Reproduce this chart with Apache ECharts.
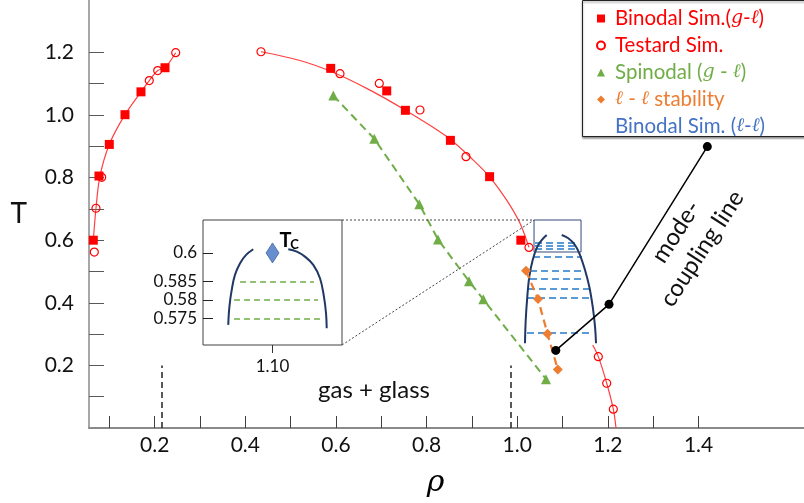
<!DOCTYPE html>
<html>
<head>
<meta charset="utf-8">
<script src="https://cdn.jsdelivr.net/npm/echarts@6/dist/echarts.min.js"></script>
<style>
  html, body { margin: 0; padding: 0; background: #fff; }
  #chart { width: 804px; height: 503px; }
</style>
</head>
<body>
<div id="chart"></div>
<script>
// ---- phase diagram data, [rho, T] ----
const binodalGL = [
  [0.0646, 0.600], [0.0771, 0.805], [0.0999, 0.906], [0.1345, 1.001], [0.1698, 1.074], [0.2228, 1.151],
  [0.5884, 1.149], [0.7120, 1.077], [0.7532, 1.015], [0.8525, 0.919], [0.9390, 0.803], [1.0079, 0.600]
];
const testard = [
  [0.0668, 0.562], [0.0705, 0.702], [0.0831, 0.801], [0.1881, 1.110], [0.2067, 1.142], [0.2464, 1.199],
  [0.4346, 1.202], [0.6089, 1.132], [0.6956, 1.101], [0.7854, 1.016], [0.8869, 0.867], [1.0259, 0.577],
  [1.1789, 0.228], [1.1974, 0.143], [1.2120, 0.060]
];
// smooth coexistence curve (gas branch, liquid branch, high-density tail)
const coexGas = [
  [0.0646, 0.600], [0.0705, 0.702], [0.0790, 0.803], [0.0999, 0.906], [0.1345, 1.001], [0.1698, 1.074],
  [0.1881, 1.110], [0.2067, 1.142], [0.2228, 1.151], [0.2464, 1.199]
];
const coexLiquid = [
  [0.4346, 1.202], [0.5207, 1.174], [0.5906, 1.138], [0.6678, 1.085], [0.7523, 1.016], [0.8444, 0.931],
  [0.9030, 0.856], [0.9399, 0.801], [0.9767, 0.728], [1.0061, 0.654], [1.0259, 0.577]
];
const coexTail = [[1.1665, 0.265], [1.1789, 0.228], [1.1974, 0.143], [1.2120, 0.060], [1.2179, 0.000]];
const spinodal = [
  [0.5941, 1.062], [0.6846, 0.924], [0.7839, 0.715], [0.8252, 0.602], [0.8936, 0.469], [0.9251, 0.411], [1.0635, 0.156]
];
const llStability = [[1.0193, 0.502], [1.0458, 0.412], [1.0668, 0.301], [1.0895, 0.187]];
const modeCoupling = [[1.0851, 0.248], [1.2025, 0.395], [1.4194, 0.899]];
// liquid-liquid tie lines: [T, rho left, rho right]
const llTieLines = [
  [0.593, 1.0392, 1.1341], [0.5815, 1.0392, 1.1341], [0.572, 1.0392, 1.1341], [0.547, 1.0348, 1.1429],
  [0.503, 1.0282, 1.1451], [0.476, 1.0282, 1.1451], [0.446, 1.0237, 1.1606], [0.416, 1.0215, 1.1606],
  [0.303, 1.0215, 1.1606]
];
const llDomeLeft = [
  [1.0171, 0.2706], [1.0187, 0.3450], [1.0222, 0.4195], [1.0266, 0.4834], [1.0341, 0.5367],
  [1.0443, 0.5792], [1.0540, 0.6006], [1.0650, 0.6166]
];
const llDomeRight = [
  [1.0981, 0.6166], [1.1127, 0.6061], [1.1274, 0.5847], [1.1385, 0.5527], [1.1495, 0.5048],
  [1.1590, 0.4515], [1.1665, 0.3876], [1.1716, 0.3237], [1.1738, 0.2706]
];
const zoomBox = { rho: [1.037, 1.1407], T: [0.5623, 0.6645] };
const glassBounds = [0.2162, 0.9862];   // rho of the dashed markers, drawn from T = 0 to 0.2
const glassMarkTop = 0.2;

// ---- close-up near the liquid-liquid critical point ----
const insetDomeLeft = [
  [1.0809, 0.57324], [1.0814, 0.57819], [1.0824, 0.58270], [1.0838, 0.58676], [1.0860, 0.58992],
  [1.0886, 0.59946], [1.0917, 0.60100]
];
const insetDomeRight = [
  [1.1068, 0.60100], [1.1105, 0.60035], [1.1140, 0.59900], [1.1176, 0.58946], [1.1205, 0.58586],
  [1.1222, 0.58089], [1.1231, 0.57641], [1.1234, 0.57235]
];
const insetTieLines = [[0.585, 1.0860, 1.1179], [0.580, 1.0834, 1.1196], [0.575, 1.0834, 1.1205]];
const criticalPoint = [1.10, 0.60];

// ---- tick values ----
const xTicks = [0.1, 0.2, 0.3, 0.4, 0.5, 0.6, 0.7, 0.8, 0.9, 1.0, 1.1, 1.2, 1.3, 1.4];
const xLabels = [0.2, 0.4, 0.6, 0.8, 1.0, 1.2, 1.4];
const yTicks = [0.1, 0.2, 0.3, 0.4, 0.5, 0.6, 0.7, 0.8, 0.9, 1.0, 1.1, 1.2];
const yLabels = [0.2, 0.4, 0.6, 0.8, 1.0, 1.2];
const insetYTicks = [0.575, 0.58, 0.585, 0.6];
const insetXTicks = [1.10];

const RED = '#FF0000', GREEN = '#70AD47', ORANGE = '#ED7D31', BLUE = '#4472C4', TIE = '#5B9BD5', NAVY = '#1F3864';
const FONT = 'Lato, "Open Sans", sans-serif';
const MATH = '"DejaVu Serif", serif';

const legendText = {
  'Binodal Sim.(g-ℓ)': '{r|Binodal Sim.(}{ri|g}{r|-}{ri|ℓ}{r|)}',
  'Testard Sim.': '{r|Testard Sim.}',
  'Spinodal (g - ℓ)': '{g|Spinodal (}{gi|g}{g| - }{gi|ℓ}{g|)}',
  'ℓ - ℓ stability': '{oi|ℓ}{o| - }{oi|ℓ}{o| stability}',
  'Binodal Sim. (ℓ-ℓ)': '{b|Binodal Sim. (}{bi|ℓ}{b|-}{bi|ℓ}{b|)}'
};
function richPair(color) {
  return [
    { color, fontFamily: FONT, fontSize: 20.5, lineHeight: 19 },
    { color, fontFamily: MATH, fontStyle: 'italic', fontSize: 19, lineHeight: 19 }
  ];
}
const [r, ri] = richPair(RED), [g, gi] = richPair(GREEN), [o, oi] = richPair(ORANGE), [b, bi] = richPair(BLUE);

const tieData = (rows) => rows.map(([t, a, c]) => ({ coords: [[a, t], [c, t]] }));
const boxPath = [
  [zoomBox.rho[0], zoomBox.T[1]], [zoomBox.rho[1], zoomBox.T[1]], [zoomBox.rho[1], zoomBox.T[0]],
  [zoomBox.rho[0], zoomBox.T[0]], [zoomBox.rho[0], zoomBox.T[1]]
];

const chart = echarts.init(document.getElementById('chart'), null, { renderer: 'canvas' });

const option = {
  animation: false,
  backgroundColor: '#fff',
  textStyle: { fontFamily: FONT },
  grid: [
    { left: 89, top: 0, right: 0, bottom: 75 },
    { left: 203, top: 220, width: 139, height: 125, show: true, backgroundColor: '#fff',
      borderColor: '#404040', borderWidth: 1 }
  ],
  xAxis: [
    {
      type: 'value', gridIndex: 0, min: 0.0551, max: 1.6327,
      name: 'ρ', nameLocation: 'middle', nameGap: 40,
      nameTextStyle: { fontFamily: MATH, fontStyle: 'italic', fontSize: 30, color: '#000', padding: [0, 22, 0, 0] },
      axisLine: { lineStyle: { color: '#8a8a8a', width: 2 } },
      axisTick: { inside: true, length: 12, customValues: xTicks, lineStyle: { color: '#404040', width: 1 } },
      axisLabel: { customValues: xLabels, margin: 7, fontSize: 21, color: '#111', fontFamily: FONT,
        formatter: v => v.toFixed(1) },
      splitLine: { show: false }
    },
    {
      type: 'value', gridIndex: 1, min: 1.07, max: 1.13,
      axisLine: { show: false },
      axisTick: { inside: false, length: 8, customValues: insetXTicks, lineStyle: { color: '#333' } },
      axisLabel: { customValues: insetXTicks, margin: 13, fontSize: 17, color: '#111', fontFamily: FONT,
        formatter: v => v.toFixed(2) },
      splitLine: { show: false }
    }
  ],
  yAxis: [
    {
      type: 'value', gridIndex: 0, min: 0, max: 1.3674,
      name: 'T', nameLocation: 'middle', nameRotate: 0, nameGap: 62,
      nameTextStyle: { fontSize: 28, color: '#111', fontFamily: FONT },
      axisLine: { show: true, lineStyle: { color: '#8a8a8a', width: 1.5 } },
      axisTick: { show: true, inside: true, length: 15, customValues: yTicks, lineStyle: { color: '#595959', width: 1 } },
      axisLabel: { customValues: yLabels, margin: 15, fontSize: 21, color: '#111', fontFamily: FONT,
        formatter: v => v.toFixed(1) },
      splitLine: { show: false }
    },
    {
      type: 'value', gridIndex: 1, min: 0.5678, max: 0.6089,
      breaks: [{ start: 0.5905, end: 0.5978, gap: 0 }],
      breakArea: { show: false },
      axisLine: { show: false },
      axisTick: { show: true, inside: true, length: 10, customValues: insetYTicks, lineStyle: { color: '#222' } },
      axisLabel: { customValues: insetYTicks, margin: 6, fontSize: 17, color: '#111', fontFamily: FONT,
        formatter: v => String(v) },
      splitLine: { show: false }
    }
  ],
  legend: {
    orient: 'vertical', left: 596, top: 8, padding: 0,
    itemWidth: 8, itemHeight: 8, itemGap: 6,
    selectedMode: false,
    data: [
      { name: 'Binodal Sim.(g-ℓ)', icon: 'rect' },
      { name: 'Testard Sim.', icon: 'circle' },
      { name: 'Spinodal (g - ℓ)', icon: 'triangle' },
      { name: 'ℓ - ℓ stability', icon: 'diamond' },
      { name: 'Binodal Sim. (ℓ-ℓ)', icon: 'none' }
    ],
    formatter: name => legendText[name],
    textStyle: { padding: [0, 0, 0, 5], rich: { r, ri, g, gi, o, oi, b, bi } }
  },
  series: [
    { name: 'coexistence gas', type: 'line', data: coexGas, smooth: 0.3, showSymbol: false, silent: true,
      lineStyle: { color: '#FF4040', width: 1.2 }, z: 1 },
    { name: 'coexistence liquid', type: 'line', data: coexLiquid, smooth: 0.3, showSymbol: false, silent: true,
      lineStyle: { color: '#FF4040', width: 1.2 }, z: 1 },
    { name: 'coexistence tail', type: 'line', data: coexTail, smooth: 0.3, showSymbol: false, silent: true,
      lineStyle: { color: '#FF4040', width: 1.2 }, z: 1 },
    { name: 'Binodal (ℓ-ℓ) dome left', type: 'line', data: llDomeLeft, smooth: 0.4, showSymbol: false,
      lineStyle: { color: NAVY, width: 2 }, z: 2 },
    { name: 'Binodal (ℓ-ℓ) dome right', type: 'line', data: llDomeRight, smooth: 0.4, showSymbol: false,
      lineStyle: { color: NAVY, width: 2 }, z: 2 },
    { name: 'Binodal Sim. (ℓ-ℓ)', type: 'lines', coordinateSystem: 'cartesian2d', data: tieData(llTieLines),
      lineStyle: { color: TIE, width: 1.8, type: [7, 4], opacity: 1 }, itemStyle: { color: BLUE }, z: 2 },
    { name: 'zoom frame', type: 'line', data: boxPath, showSymbol: false,
      lineStyle: { color: '#34497A', width: 1 }, z: 2 },
    { name: 'glass bounds', type: 'lines', coordinateSystem: 'cartesian2d',
      data: glassBounds.map(x => ({ coords: [[x, 0], [x, glassMarkTop]] })),
      lineStyle: { color: '#222', width: 1.5, type: [6, 4], opacity: 1 }, z: 2 },
    { name: 'Spinodal (g - ℓ)', type: 'line', data: spinodal, symbol: 'triangle', symbolSize: 10,
      itemStyle: { color: GREEN }, lineStyle: { color: GREEN, width: 2, type: [8, 5] }, z: 3 },
    { name: 'ℓ - ℓ stability', type: 'line', data: llStability, symbol: 'diamond', symbolSize: 10,
      itemStyle: { color: ORANGE }, lineStyle: { color: ORANGE, width: 2.2, type: [8, 5] }, z: 3 },
    { name: 'mode-coupling', type: 'line', data: modeCoupling, symbol: 'circle', symbolSize: 9,
      itemStyle: { color: '#000' }, lineStyle: { color: '#000', width: 1.5 }, z: 4 },
    { name: 'Binodal Sim.(g-ℓ)', type: 'scatter', data: binodalGL, symbol: 'rect', symbolSize: 9,
      itemStyle: { color: RED, opacity: 1 }, z: 5 },
    { name: 'Testard Sim.', type: 'scatter', data: testard, symbol: 'circle', symbolSize: 8,
      itemStyle: { color: 'rgba(255,255,255,0)', borderColor: RED, borderWidth: 1.2, opacity: 1 }, z: 5 },

    // close-up panel
    { name: 'inset dome left', type: 'line', xAxisIndex: 1, yAxisIndex: 1, data: insetDomeLeft, smooth: 0.4,
      showSymbol: false, lineStyle: { color: NAVY, width: 2 }, z: 6 },
    { name: 'inset dome right', type: 'line', xAxisIndex: 1, yAxisIndex: 1, data: insetDomeRight, smooth: 0.4,
      showSymbol: false, lineStyle: { color: NAVY, width: 2 }, z: 6 },
    { name: 'inset tie lines', type: 'lines', coordinateSystem: 'cartesian2d', xAxisIndex: 1, yAxisIndex: 1,
      data: tieData(insetTieLines), lineStyle: { color: GREEN, width: 1.5, type: [6, 4], opacity: 1 }, z: 6 },
    { name: 'critical point', type: 'scatter', xAxisIndex: 1, yAxisIndex: 1, data: [criticalPoint],
      symbol: 'diamond', symbolSize: [13, 20], itemStyle: { color: BLUE, borderColor: '#2F528F', borderWidth: 0.8 }, z: 7 }
  ]
};
chart.setOption(option);

// annotations and connector lines, anchored through the axes
const P = (pt) => chart.convertToPixel({ xAxisIndex: 0, yAxisIndex: 0 }, pt);
const Q = (pt) => chart.convertToPixel({ xAxisIndex: 1, yAxisIndex: 1 }, pt);
const boxCorner = P([zoomBox.rho[0], zoomBox.T[1]]);
const insetTopRight = Q([1.13, 0.6089]);
const insetBottomRight = Q([1.13, 0.5678]);
const cp = Q(criticalPoint);
const gasLabel = P([0.684, 0.121]);
const mctLabel = P([1.379, 0.600]);

chart.setOption({
  graphic: [
    { type: 'rect', z: 0, shape: { x: 582.5, y: 0.5, width: 240, height: 136 },
      style: { fill: '#fff', stroke: '#222', lineWidth: 1, shadowColor: 'rgba(0,0,0,0.45)', shadowBlur: 2, shadowOffsetY: 1.5 } },
    { type: 'line', z: 10, shape: { x1: insetTopRight[0], y1: insetTopRight[1], x2: boxCorner[0], y2: boxCorner[1] },
      style: { stroke: '#444', lineWidth: 1, lineDash: [2, 2] } },
    { type: 'line', z: 10, shape: { x1: insetBottomRight[0], y1: insetBottomRight[1], x2: boxCorner[0], y2: boxCorner[1] },
      style: { stroke: '#444', lineWidth: 1, lineDash: [2, 2] } },
    { type: 'text', z: 10, x: cp[0] + 13, y: cp[1] - 12,
      style: { text: 'T', font: 'bold 20px ' + FONT, fill: '#000', textAlign: 'center', textVerticalAlign: 'middle' } },
    { type: 'text', z: 10, x: cp[0] + 22, y: cp[1] - 8,
      style: { text: 'C', font: 'bold 13px ' + FONT, fill: '#000', textAlign: 'center', textVerticalAlign: 'middle' } },
    { type: 'text', z: 10, x: gasLabel[0], y: gasLabel[1],
      style: { text: 'gas + glass', font: '24px ' + FONT, fill: '#111', textAlign: 'center', textVerticalAlign: 'middle' } },
    { type: 'text', z: 10, x: mctLabel[0], y: mctLabel[1], rotation: 57 * Math.PI / 180,
      style: { text: 'mode-\ncoupling line', font: '24px ' + FONT, lineHeight: 31, fill: '#111',
        textAlign: 'center', textVerticalAlign: 'middle' } }
  ]
});
</script>
</body>
</html>
